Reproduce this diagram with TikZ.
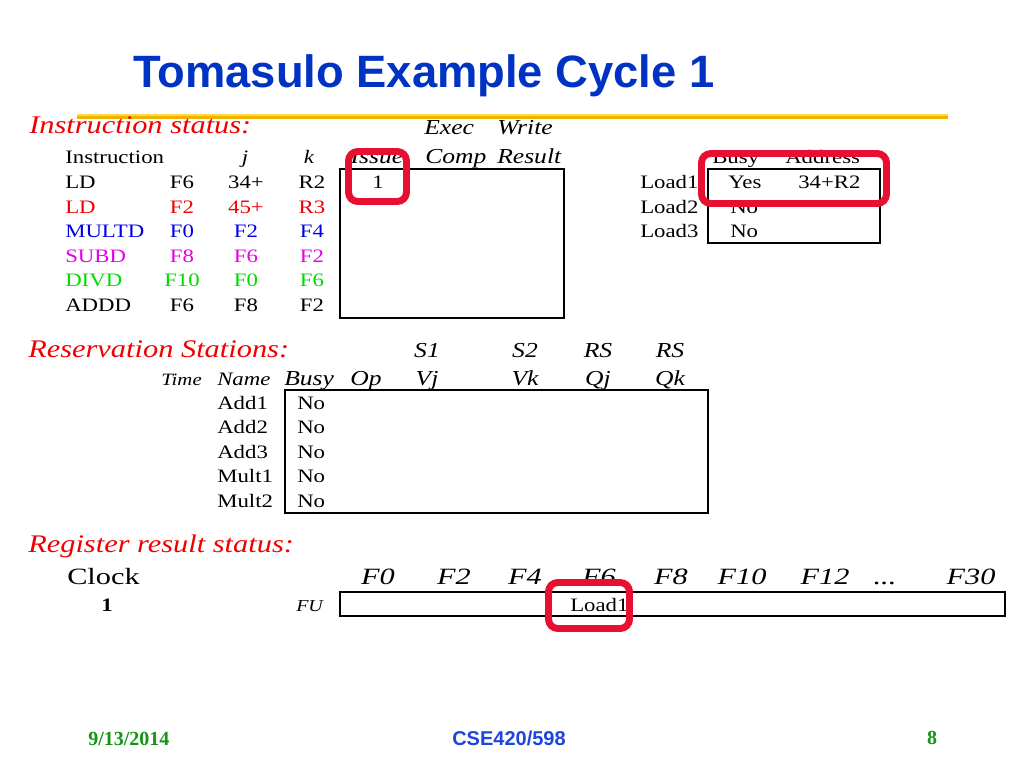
\documentclass[tikz,border=0pt]{standalone}
\usepackage{fontspec}
\setmainfont{Liberation Serif}[FakeStretch=1.2]
\newfontfamily\wideserif{Liberation Serif}[FakeStretch=1.3]
\newfontfamily\titlefont{Liberation Sans}
\newfontfamily\footsans{Liberation Sans}
\newfontfamily\footserif{Liberation Serif}
\definecolor{titleblue}{RGB}{0,51,196}
\definecolor{gold}{RGB}{242,178,0}
\definecolor{lightgold}{RGB}{255,214,70}
\definecolor{hired}{RGB}{232,16,48}
\definecolor{txtred}{RGB}{240,0,0}
\definecolor{txtblue}{RGB}{0,0,230}
\definecolor{txtmag}{RGB}{230,0,230}
\definecolor{txtgreen}{RGB}{0,220,0}
\definecolor{footgreen}{RGB}{20,150,20}
\definecolor{footblue}{RGB}{30,70,220}
\tikzset{
  body/.style={inner sep=0pt,anchor=base,font=\fontsize{14.25}{16}\selectfont},
  bodyw/.style={body,anchor=base west},
  sect/.style={inner sep=0pt,anchor=base west,text=txtred,font=\fontsize{19}{22}\selectfont\itshape},
  hdr/.style={inner sep=0pt,anchor=base,font=\fontsize{16}{18}\selectfont\itshape},
  hdrw/.style={hdr,anchor=base west},
  reg/.style={inner sep=0pt,anchor=base,font=\fontsize{17.5}{20}\selectfont\wideserif\itshape},
  tbox/.style={draw=black,line width=0.9pt},
  hilite/.style={draw=hired,line width=5.2pt,rounded corners=7pt}
}
\begin{document}
\begin{tikzpicture}[x=0.75pt,y=-0.75pt]
\fill[white] (0,0) rectangle (1024,768);
\useasboundingbox (0,0) rectangle (1024,768);
% title
\node[inner sep=0pt,anchor=base west,text=titleblue,font=\fontsize{34}{37}\selectfont\titlefont\bfseries] (title) at (133,87) {Tomasulo Example Cycle 1};
\coordinate (gl) at (77,117);
\coordinate (gr) at (948,117);
\draw[gold,line width=3.6pt] (gl) -- (gr);
\draw[lightgold,line width=1.2pt] ([yshift=1.6pt]gl) -- ([yshift=1.6pt]gr);
% instruction status
\node[sect] (secIS) at (29,133) {Instruction status:};
\node[hdrw] (hExec) at (424,134) {Exec};
\node[hdrw] (hWrite) at (497,134) {Write};
\node[bodyw] (hInstr) at (65,163) {Instruction};
\node[body,font=\fontsize{14.25}{16}\selectfont\itshape] (hj) at (245,163) {j};
\node[body,font=\fontsize{14.25}{16}\selectfont\itshape] (hk) at (309,163) {k};
\node[hdr] (hIssue) at (377,163) {Issue};
\node[hdrw] (hComp) at (425,163) {Comp};
\node[hdrw] (hResult) at (497,163) {Result};
% rows
\foreach \op/\d/\j/\k/\c [count=\i] in {LD/F6/34+/R2/black, LD/F2/45+/R3/txtred, MULTD/F0/F2/F4/txtblue, SUBD/F8/F6/F2/txtmag, DIVD/F10/F0/F6/txtgreen, ADDD/F6/F8/F2/black}{
  \pgfmathsetmacro{\yy}{188.5+24.5*(\i-1)}
  \node[bodyw,text=\c] (op\i) at (65,\yy) {\op};
  \node[body,text=\c] (d\i) at (182,\yy) {\d};
  \node[body,text=\c] (j\i) at (246,\yy) {\j};
  \node[body,text=\c] (k\i) at (312,\yy) {\k};
}
\draw[tbox] (340,169) rectangle (564,318);
\node[body] (iss1) at (378,188.5) {1};
% load buffers
\node[bodyw] (hBusyL) at (712,163) {Busy};
\node[bodyw] (hAddr) at (785,163) {Address};
\node[bodyw] (L1) at (640,188.5) {Load1};
\node[bodyw] (L2) at (640,213) {Load2};
\node[bodyw] (L3) at (640,237.5) {Load3};
\draw[tbox] (708,169) rectangle (880,243);
\node[bodyw] (L1b) at (728,188.5) {Yes};
\node[bodyw] (L1a) at (798,188.5) {34+R2};
\node[bodyw] (L2b) at (730,213) {No};
\node[bodyw] (L3b) at (730,237.5) {No};
% reservation stations
\node[sect] (secRS) at (28,357) {Reservation Stations:};
\node[hdr] (hS1) at (427,357) {S1};
\node[hdr] (hS2) at (525,357) {S2};
\node[hdr] (hRS1) at (598,357) {RS};
\node[hdr] (hRS2) at (670,357) {RS};
\node[inner sep=0pt,anchor=base east,font=\fontsize{13}{15}\selectfont\itshape] (hTime) at (202,385) {Time};
\node[bodyw,font=\fontsize{14.25}{16}\selectfont\itshape] (hName) at (217,385) {Name};
\node[hdrw] (hBusyR) at (284,385) {Busy};
\node[hdrw] (hOp) at (350,385) {Op};
\node[hdr] (hVj) at (427,385) {Vj};
\node[hdr] (hVk) at (525,385) {Vk};
\node[hdr] (hQj) at (598,385) {Qj};
\node[hdr] (hQk) at (670,385) {Qk};
\foreach \n [count=\i] in {Add1,Add2,Add3,Mult1,Mult2}{
  \pgfmathsetmacro{\yy}{409.5+24.4*(\i-1)}
  \node[bodyw] (rs\i) at (217,\yy) {\n};
  \node[bodyw] (rsb\i) at (297,\yy) {No};
}
\draw[tbox] (285,390) rectangle (708,513);
% register result status
\node[sect] (secRR) at (28,552) {Register result status:};
\node[inner sep=0pt,anchor=base west,font=\fontsize{17.5}{20}\selectfont\wideserif] (clk) at (67,584) {Clock};
\foreach \f/\x in {F0/378,F2/454,F4/525,F6/599,F8/671,F10/742,F12/825,F30/971}{
  \node[reg] (r\f) at (\x,584) {\f};
}
\node[reg] (rdots) at (885,584) {...};
\node[body,font=\fontsize{14.25}{16}\selectfont\bfseries] (clk1) at (107,611) {1};
\node[inner sep=0pt,anchor=base west,font=\fontsize{12.5}{14}\selectfont\itshape] (fu) at (296,611) {FU};
\draw[tbox] (340,592) rectangle (1005,616);
\node[bodyw] (fuL1) at (570,611) {Load1};
% highlight boxes
\draw[hilite] (348.5,151.5) rectangle (406.5,201.5);
\draw[hilite] (701.5,153.5) rectangle (886.5,203.5);
\draw[hilite] (548.5,582.5) rectangle (629.5,628.5);
% footer
\node[inner sep=0pt,anchor=base west,text=footgreen,font=\fontsize{15}{17}\selectfont\footserif\bfseries] (fdate) at (88,745) {9/13/2014};
\node[inner sep=0pt,anchor=base,text=footblue,font=\fontsize{15}{17}\selectfont\footsans\bfseries] (fcourse) at (509,745) {CSE420/598};
\node[inner sep=0pt,anchor=base,text=footgreen,font=\fontsize{15}{17}\selectfont\footserif\bfseries] (fpage) at (932,744) {8};
\end{tikzpicture}
\end{document}
